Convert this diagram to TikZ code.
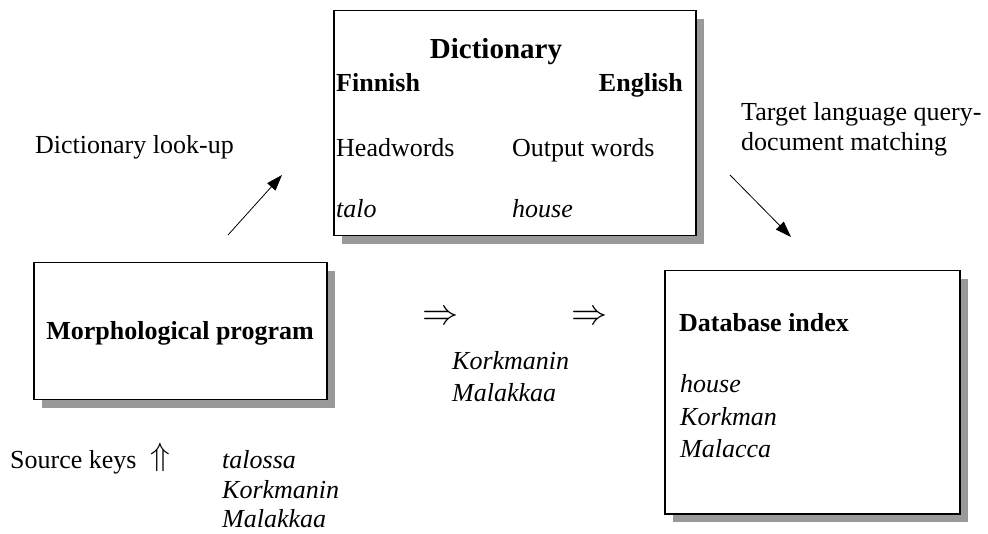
\documentclass[tikz,border=0pt]{standalone}
\usepackage{fontspec}
\setmainfont{Liberation Serif}
\usepackage{amsmath}
\usepackage{amssymb}
\usepackage{graphicx}
\usetikzlibrary{positioning,arrows.meta,shadows}

\begin{document}
\begin{tikzpicture}[x=1pt,y=-1pt,
	panel/.style={draw,line width=1.5pt,fill=white,inner sep=0pt,anchor=north west,
		drop shadow={shadow xshift=8pt,shadow yshift=-8pt,fill=black!40,opacity=1}},
	txt/.style={anchor=base west,inner sep=0pt,font=\fontsize{26}{30}\selectfont},
	hd/.style={txt,font=\fontsize{26}{30}\selectfont\bfseries},
	it/.style={txt,font=\fontsize{26}{30}\selectfont\itshape},
	sym/.style={anchor=center,inner sep=0pt,font=\fontsize{26}{30}\selectfont},
	flow/.style={line width=0.8pt,-{Triangle[length=16pt,width=11pt]}}]
	\useasboundingbox (0,0) rectangle (988,534);
	% boxes
	\node[panel,minimum width=362pt,minimum height=225pt] (dict) at (333,10) {};
	\node[panel,minimum width=293pt,minimum height=137pt] (morph) at (33,262) {};
	\node[panel,minimum width=295pt,minimum height=243pt] (dbase) at (664,270) {};
	% dictionary
	\node[hd,anchor=base,font=\fontsize{29}{32}\selectfont\bfseries] (dtitle) at (496,59) {Dictionary};
	\node[hd] (fin) at (336,92) {Finnish};
	\node[hd,anchor=base east] (eng) at (683,92) {English};
	\node[txt] (head) at (336,157) {Headwords};
	\node[txt] (outw) at (512,157) {Output words};
	\node[it] (talo) at (336,218) {talo};
	\node[it] (house) at (512,218) {house};
	% labels of the arrows
	\node[txt] (lookup) at (35,154) {Dictionary look-up};
	\node[txt] (target1) at (741,121) {Target language query-};
	\node[txt] (target2) at (741,151) {document matching};
	\coordinate (lookfrom) at (228,235);
	\coordinate (lookto) at (282,175);
	\coordinate (matchfrom) at (730,175);
	\coordinate (matchto) at (791,237);
	\draw[flow] (lookfrom) -- (lookto);
	\draw[flow] (matchfrom) -- (matchto);
	% morphology
	\node[hd,anchor=base] (mtitle) at (180,340) {Morphological program};
	\node[sym] (imp1) at (441,318) {\scalebox{1.45}{$\Rightarrow$}};
	\node[sym] (imp2) at (590,318) {\scalebox{1.45}{$\Rightarrow$}};
	\node[it] (out1) at (452,370) {Korkmanin};
	\node[it] (out2) at (452,402) {Malakkaa};
	% source keys
	\node[txt] (src) at (10,468) {Source keys};
	\node[sym] (up) at (160,457) {\scalebox{1.3}{$\Uparrow$}};
	\node[it] (key1) at (222,468) {talossa};
	\node[it] (key2) at (222,498) {Korkmanin};
	\node[it] (key3) at (222,527) {Malakkaa};
	% index
	\node[hd] (dtit) at (679,332) {Database index};
	\node[it] (idx1) at (680,393) {house};
	\node[it] (idx2) at (680,425) {Korkman};
	\node[it] (idx3) at (680,457) {Malacca};
\end{tikzpicture}
\end{document}
